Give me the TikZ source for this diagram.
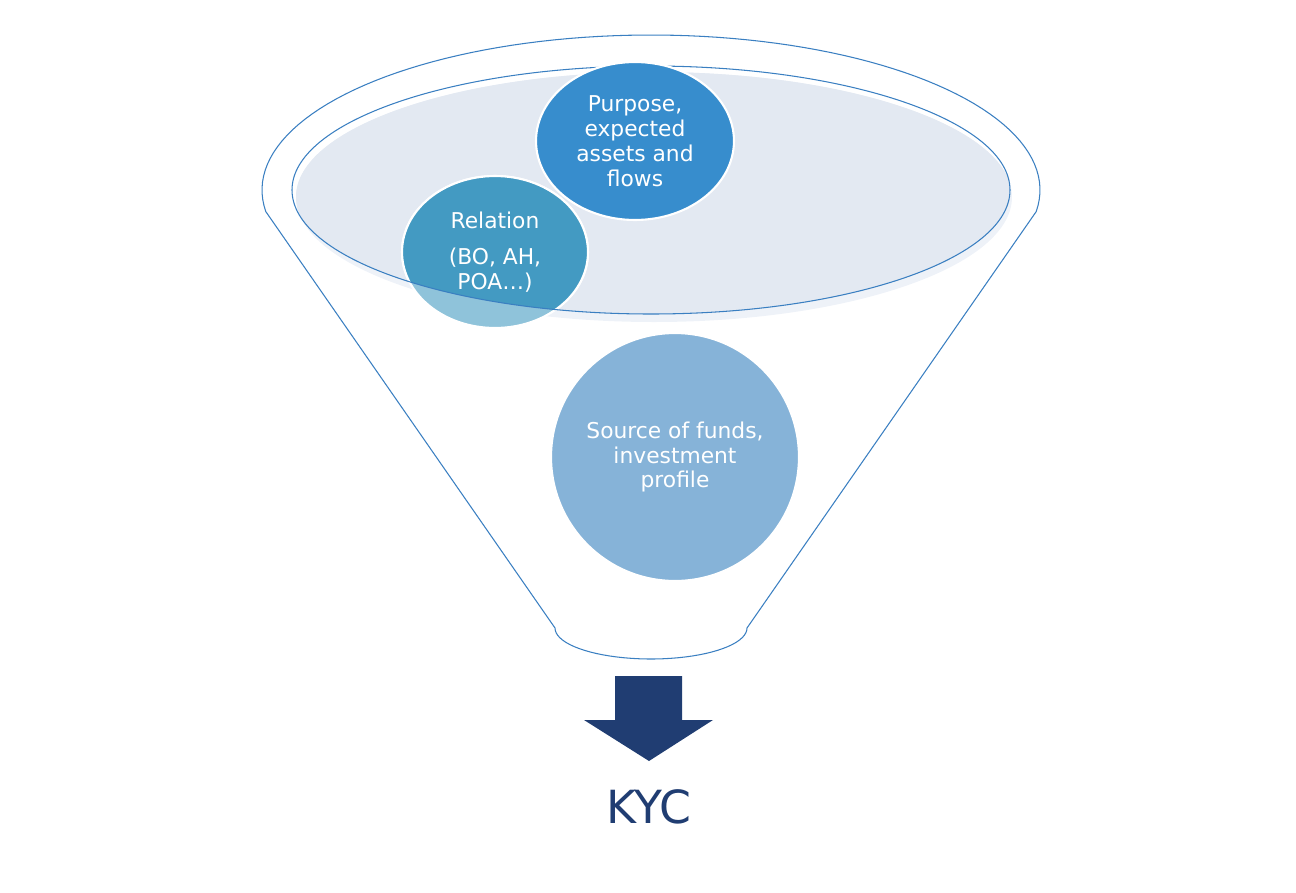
\documentclass[tikz,border=0pt]{standalone}
\usepackage{fontspec}
\setmainfont{DejaVu Sans}
\usepackage{tikz}
\usetikzlibrary{positioning}
\usetikzlibrary{shapes.geometric}
\usepackage{color}
\definecolor{FunnelBlue}{HTML}{3A7FC1}
\definecolor{TopFill}{HTML}{E3E9F2}
\definecolor{TopShade}{HTML}{EEF2F8}
\definecolor{PurposeBlue}{HTML}{378DCD}
\definecolor{RelationDark}{HTML}{439AC2}
\definecolor{RelationLight}{HTML}{8FC3DA}
\definecolor{SourceBlue}{HTML}{86B3D8}
\definecolor{KycBlue}{HTML}{203D72}
\tikzset{
funnelline/.style={draw=FunnelBlue, line width=0.6pt},
bubble/.style={ellipse, draw=white, line width=1.2pt, inner sep=0pt},
bubbletext/.style={text=white, align=center, font=\fontsize{12.4}{14.2}\selectfont},
}

\begin{document}
\begin{tikzpicture}[x=0.02cm, y=-0.02cm]
\useasboundingbox (0,0) rectangle (1296,893);

%Funnel
\draw[funnelline] plot[domain=-8:188, samples=90] ({651+389*cos(\x)},{190-155*sin(\x)})
  -- plot[domain=180:360, samples=40] ({651+96*cos(\x)},{628-31*sin(\x)}) -- cycle;
\fill[TopShade] (654,197) ellipse [x radius=358, y radius=125];
\begin{scope}
\clip (651,190) ellipse [x radius=359, y radius=124];
\fill[TopFill] (654,197) ellipse [x radius=358, y radius=125];
\end{scope}

%Nodes
\node[bubble, fill=RelationLight, minimum width=3.72cm, minimum height=3.04cm] (Relation) at (495,252) {};
\begin{scope}
\clip (651,190) ellipse [x radius=359, y radius=124];
\node[bubble, fill=RelationDark, minimum width=3.72cm, minimum height=3.04cm] (RelationTop) at (Relation.center) {};
\end{scope}
\draw[funnelline] (651,190) ellipse [x radius=359, y radius=124];
\node[bubble, fill=PurposeBlue, minimum width=3.96cm, minimum height=3.16cm] (Purpose) at (635,141) {};
\node[bubble, fill=SourceBlue, minimum width=4.96cm, minimum height=4.96cm] (Source) at (675,457) {};

%Texts
\node[bubbletext] (RelationText) at (Relation.center) {Relation\\[6pt](BO, AH,\\POA…)};
\node[bubbletext] (PurposeText) at (Purpose.center) {Purpose,\\expected\\assets and\\flows};
\node[bubbletext] (SourceText) at (Source.center) {Source of funds,\\investment\\profile};

%Arrow
\fill[KycBlue] (615,676) -- (682,676) -- (682,720) -- (713,720) -- (649,761) -- (584,720) -- (615,720) -- cycle;
\node[text=KycBlue, font=\fontsize{26}{30}\selectfont] (KYC) at (649,807) {KYC};

\end{tikzpicture}
\end{document}
